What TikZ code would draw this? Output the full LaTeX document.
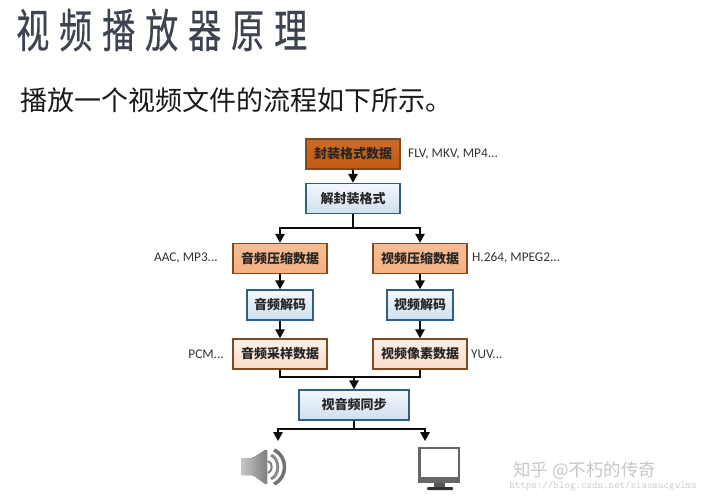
\documentclass[tikz,border=0pt]{standalone}
\usepackage{fontspec}
\setmainfont{Carlito}
\newfontfamily\cjk{Noto Sans CJK SC}
\newfontfamily\cjktitle{Noto Sans CJK SC}[FakeBold=0.4]
\usetikzlibrary{arrows.meta,shadows,calc}
\definecolor{dkorange}{HTML}{C55A11}
\definecolor{dkorangeb}{HTML}{7F4A22}
\definecolor{midorange}{HTML}{F4B183}
\definecolor{lightorange}{HTML}{FBE5D6}
\definecolor{paleblue}{HTML}{CFE0EF}
\definecolor{bluebd}{HTML}{2F5F86}
\definecolor{slate}{HTML}{3D4450}
\tikzset{
  x=1pt,y=-1pt,
  basebox/.style={draw,line width=1.5pt,minimum height=30pt,inner sep=0pt,font=\cjk\bfseries\fontsize{13}{13}\selectfont,text=black!85,
    general shadow={shadow xshift=0.8pt,shadow yshift=-0.8pt,fill=black!30}},
  srcbox/.style={basebox,draw=dkorangeb,top color=dkorange!90!white,bottom color=dkorange,minimum width=94pt},
  procbox/.style={basebox,draw=bluebd,top color=paleblue!25!white,bottom color=paleblue,minimum width=94pt},
  compbox/.style={basebox,draw=dkorangeb,top color=midorange!85!white,bottom color=midorange,minimum width=94pt},
  rawbox/.style={basebox,draw=dkorangeb,top color=lightorange!60!white,bottom color=lightorange!85!midorange,minimum width=94pt},
  flow/.style={line width=1.6pt,black!95,-{Triangle[length=9pt,width=9.5pt]}},
  trunk/.style={line width=1.6pt,black!95},
  fmt/.style={font=\fontsize{13.3}{13.3}\selectfont,text=black!80,inner sep=0pt}
}
\begin{document}
\begin{tikzpicture}
\useasboundingbox (0,0) rectangle (703,500);
\fill[white] (0,0) rectangle (703,500);
% titles
\node[font=\cjktitle\fontsize{46}{46}\selectfont,text=slate,anchor=west,inner sep=0pt] (title) at (16,30) {\scalebox{0.72}[1]{视\hspace{13.7pt}频\hspace{13.7pt}播\hspace{13.7pt}放\hspace{13.7pt}器\hspace{13.7pt}原\hspace{13.7pt}理}};
\node[font=\cjk\fontsize{27}{27}\selectfont,text=black!90,anchor=west,inner sep=0pt] (sub) at (20,100) {播放一个视频文件的流程如下所示。};
% boxes
\node[srcbox] (src) at (353,154) {封装格式数据};
\node[procbox] (demux) at (353,198.5) {解封装格式};
\node[compbox] (acomp) at (280,258.5) {音频压缩数据};
\node[compbox] (vcomp) at (420,258.5) {视频压缩数据};
\node[procbox,minimum width=66pt] (adec) at (280,305) {音频解码};
\node[procbox,minimum width=66pt] (vdec) at (420,305) {视频解码};
\node[rawbox] (araw) at (280,354) {音频采样数据};
\node[rawbox] (vraw) at (420,354) {视频像素数据};
\node[procbox,minimum width=110pt] (sync) at (354,405) {视音频同步};
% format labels
\node[fmt,anchor=west] (l1) at (408,154) {FLV, MKV, MP4...};
\node[fmt,anchor=east] (l2) at (218,258) {AAC, MP3...};
\node[fmt,anchor=west] (l3) at (472,258) {H.264, MPEG2...};
\node[fmt,anchor=east] (l4) at (224,354) {PCM...};
\node[fmt,anchor=west] (l5) at (471,354) {YUV...};
% junctions
\coordinate (j1) at (353,228);
\coordinate (j2) at (354,377);
\coordinate (j3) at (354,429);
\coordinate (spk) at (278,441);
\coordinate (mon) at (425,441);
% connectors
\draw[flow] (src) -- (demux);
\draw[trunk] (demux) -- (j1);
\draw[flow] (j1) -| (acomp);
\draw[flow] (j1) -| (vcomp);
\draw[flow] (acomp) -- (adec);
\draw[flow] (vcomp) -- (vdec);
\draw[flow] (adec) -- (araw);
\draw[flow] (vdec) -- (vraw);
\draw[trunk] (araw.south) |- (j2);
\draw[trunk] (vraw.south) |- (j2);
\draw[flow] (j2) -- (sync);
\draw[trunk] (sync) -- (j3);
\draw[flow] (j3) -| (spk);
\draw[flow] (j3) -| (mon);
% speaker
\fill[rounded corners=1.5pt,left color=black!22,right color=black!50] (241,458) -- (253,458) -- (267,449) -- (267,485) -- (253,475) -- (241,475) -- cycle;
\draw[black!50,line width=2pt] (268,461) .. controls (273,463) and (273,471) .. (268,473);
\draw[black!45,line width=3pt] (271,455) .. controls (280,459) and (280,475) .. (271,479);
\draw[black!55,line width=3.5pt] (274,450) .. controls (288,456) and (288,478) .. (274,484);
% monitor
\fill[black!60] (418,447) rectangle (460,483);
\fill[white] (420.5,449) rectangle (457.5,477);
\fill[black!65] (434,483) rectangle (445,487);
\fill[black!80,rounded corners=1pt] (427,487) rectangle (453,490);
% watermarks
\node[font=\cjk\fontsize{17.5}{17.5}\selectfont,text=black!22,anchor=west,inner sep=0pt] (wm1) at (513,471) {知乎 @不朽的传奇};
\node[font=\ttfamily\fontsize{10.5}{10.5}\selectfont,text=black!20,anchor=east,inner sep=0pt] (wm2) at (697,486) {https://blog.csdn.net/xiaomucgwlmx};
\end{tikzpicture}
\end{document}
